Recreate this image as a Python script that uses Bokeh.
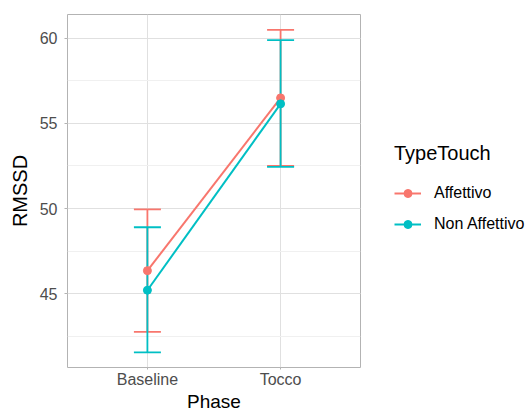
from bokeh.plotting import figure
from bokeh.layouts import row
from bokeh.models import (FactorRange, Range1d, ColumnDataSource, Whisker, TeeHead,
                          Legend, LegendItem, SingleIntervalTicker)
from bokeh.embed import file_html
from bokeh.resources import INLINE

phases = ["Baseline", "Tocco"]
groups = ["Affettivo", "Non Affettivo"]
colors = ["#F8766D", "#00BFC4"]

aff_mean = [46.35, 56.5]
aff_lower = [42.75, 52.5]
aff_upper = [49.95, 60.5]

non_mean = [45.2, 56.15]
non_lower = [41.55, 52.45]
non_upper = [48.9, 59.9]

FONT = "Liberation Sans"

p = figure(width=361, height=414, output_backend="svg", toolbar_location=None,
           x_range=FactorRange(factors=phases, range_padding=0.1),
           y_range=Range1d(40.66, 61.4),
           min_border_left=67, min_border_right=1, min_border_top=14,
           min_border_bottom=46)

p.background_fill_color = "white"
p.border_fill_color = "white"
p.outline_line_color = "#B3B3B3"
p.outline_line_width = 1

p.yaxis.ticker = SingleIntervalTicker(interval=5, num_minor_ticks=2)
p.xgrid.grid_line_color = "#E0E0E0"
p.ygrid.grid_line_color = "#E0E0E0"
p.ygrid.minor_grid_line_color = "#F0F0F0"

for ax in (p.xaxis[0], p.yaxis[0]):
    ax.axis_line_color = None
    ax.major_tick_line_color = "#B3B3B3"
    ax.major_tick_in = 0
    ax.minor_tick_line_color = None
    ax.major_label_text_font = FONT
    ax.major_label_text_font_size = "16px"
    ax.major_label_text_color = "#4D4D4D"
    ax.axis_label_text_font = FONT
    ax.axis_label_text_font_style = "normal"
    ax.axis_label_text_color = "black"

p.xaxis.axis_label = "Phase"
p.yaxis.axis_label = "RMSSD"
p.xaxis.axis_label_text_font_size = "19px"
p.yaxis.axis_label_text_font_size = "20px"
p.xaxis.major_tick_out = 2
p.yaxis.major_tick_out = 3
p.xaxis.major_label_standoff = 1
p.xaxis.axis_label_standoff = 0
p.yaxis.major_label_standoff = 6
p.yaxis.axis_label_standoff = 6

# legend-only panel on the right (same data, outside its visible range)
q = figure(width=170, height=414, output_backend="svg", toolbar_location=None,
           x_range=FactorRange(factors=phases), y_range=Range1d(0, 1),
           x_axis_type=None, y_axis_type=None,
           min_border_left=0, min_border_right=0, min_border_top=0,
           min_border_bottom=0)
q.outline_line_color = None
q.grid.visible = False
q.background_fill_color = "white"
q.border_fill_color = "white"

items = []
for name, color, m, lo, up in [(groups[0], colors[0], aff_mean, aff_lower, aff_upper),
                               (groups[1], colors[1], non_mean, non_lower, non_upper)]:
    src = ColumnDataSource(dict(x=phases, y=m, lower=lo, upper=up))
    p.line("x", "y", source=src, line_color=color, line_width=2)
    p.scatter("x", "y", source=src, fill_color=color, line_color=color, size=8)
    w = Whisker(source=src, base="x", lower="lower", upper="upper",
                line_color=color, line_width=1.8,
                upper_head=TeeHead(size=27, line_color=color, line_width=1.8),
                lower_head=TeeHead(size=27, line_color=color, line_width=1.8))
    p.add_layout(w)
    ln = q.line("x", "y", source=src, line_color=color, line_width=2)
    pt = q.scatter("x", "y", source=src, fill_color=color, line_color=color, size=8)
    items.append(LegendItem(label=name, renderers=[ln, pt]))

legend = Legend(items=items, location=(33, 133), title="TypeTouch",
                title_text_font=FONT, title_text_font_size="20px",
                title_text_font_style="normal", title_text_color="black",
                title_standoff=18,
                label_text_font=FONT, label_text_font_size="16px",
                label_text_color="black",
                glyph_width=27, glyph_height=20, label_height=20,
                label_standoff=13, spacing=11, padding=0, margin=0,
                border_line_color=None, background_fill_color=None)
q.add_layout(legend)

layout = row(p, q, spacing=0)
open("out.html", "w").write(file_html(layout, INLINE))
